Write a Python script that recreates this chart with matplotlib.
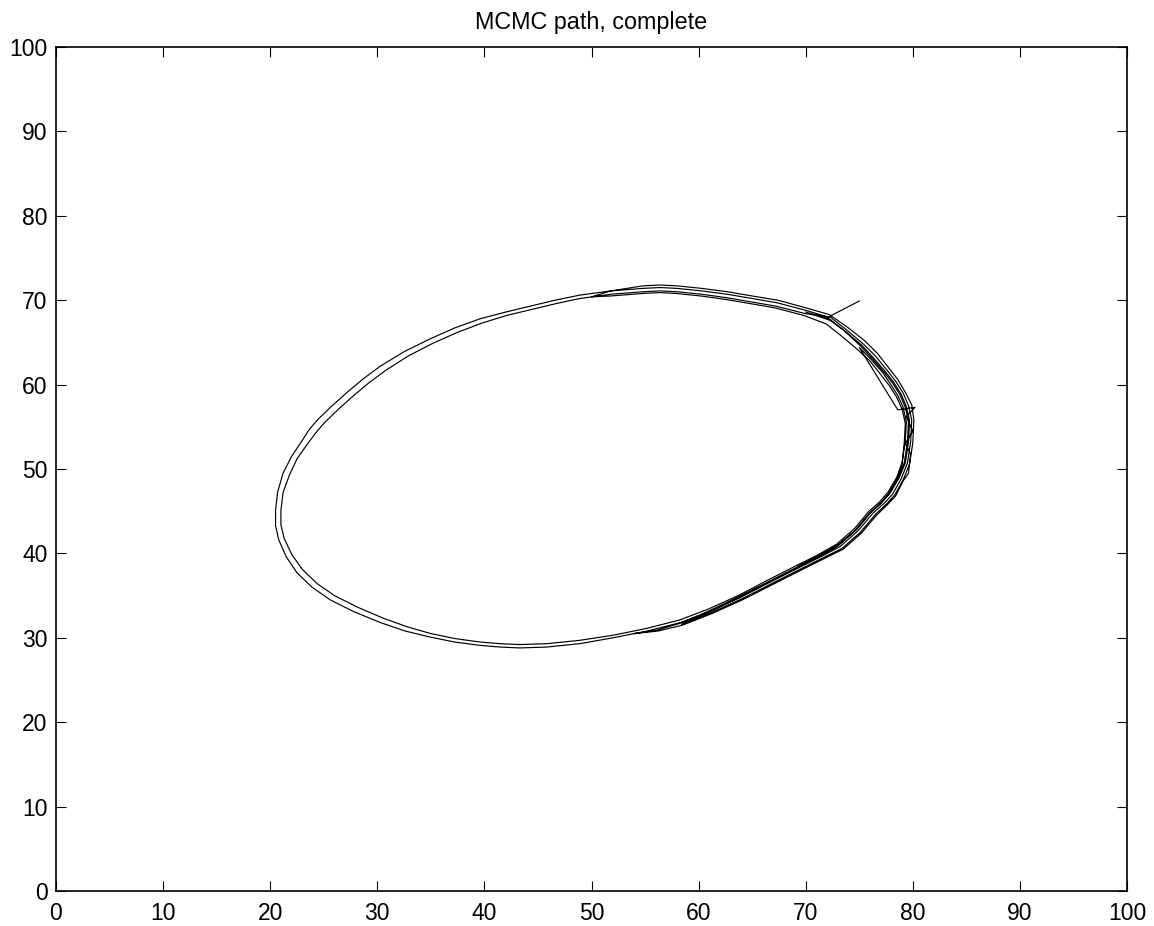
import matplotlib
matplotlib.use("Agg")
import matplotlib.pyplot as plt

plt.rcParams['font.family'] = ['Liberation Sans', 'DejaVu Sans']

# starting jump
start_x = [75.0, 72.1]
start_y = [69.9, 68.0]

# first full loop (outer)
loop1_x = [70.0, 67.3, 65.0, 62.7, 60.3, 58.0, 56.4, 54.8, 51.8, 48.9, 46.6, 44.3, 42.0, 39.6, 37.2,
           34.9, 32.5, 30.3, 28.7, 27.2, 25.7, 24.4, 23.6, 23.0, 22.0, 21.2, 20.7, 20.5, 20.5, 20.8,
           21.5, 22.5, 23.9, 25.6, 27.8, 30.3, 32.6, 34.9, 37.2, 39.6, 41.5, 43.3, 45.8, 48.9, 52.0,
           55.2, 58.3, 61.1, 63.9, 66.7, 69.5, 71.4, 73.2, 74.9, 76.3, 77.3, 78.1, 78.9, 79.5, 79.8,
           79.9, 79.6, 79.1, 78.4, 77.6, 76.5, 75.3, 73.8, 72.3]
loop1_y = [68.8, 69.7, 70.2, 70.7, 71.1, 71.4, 71.5, 71.4, 71.1, 70.6, 70.0, 69.3, 68.6, 67.8, 66.7,
           65.4, 63.9, 62.2, 60.7, 59.1, 57.4, 55.8, 54.6, 53.4, 51.5, 49.5, 47.3, 45.1, 43.3, 41.6,
           39.6, 37.7, 36.0, 34.5, 33.1, 31.8, 30.8, 30.1, 29.5, 29.1, 28.9, 28.8, 28.9, 29.3, 30.0,
           30.8, 31.8, 33.2, 34.8, 36.6, 38.4, 39.6, 40.8, 42.7, 44.8, 45.9, 47.0, 48.8, 50.7, 53.2,
           55.8, 57.5, 59.0, 60.4, 61.7, 63.4, 64.9, 66.5, 68.0]

# second full loop (inner)
loop2_x = [70.0, 67.2, 64.9, 62.6, 60.3, 58.0, 56.4, 54.8, 51.8, 48.9, 46.7, 44.4, 42.1, 39.8, 37.5,
           35.2, 32.9, 30.8, 29.2, 27.7, 26.3, 25.0, 24.2, 23.5, 22.5, 21.8, 21.2, 21.0, 21.0, 21.3,
           22.0, 23.0, 24.4, 26.0, 28.2, 30.6, 32.8, 35.0, 37.3, 39.6, 41.5, 43.3, 45.8, 48.9, 52.0,
           55.1, 58.2, 60.9, 63.7, 66.4, 69.2, 71.1, 72.9, 74.6, 75.9, 76.9, 77.7, 78.5, 79.0, 79.3,
           79.4, 79.1, 78.6, 77.9, 77.2, 76.1, 75.0]
loop2_y = [68.4, 69.3, 69.8, 70.3, 70.7, 71.0, 71.1, 71.0, 70.7, 70.2, 69.6, 68.9, 68.2, 67.3, 66.2,
           64.9, 63.4, 61.7, 60.2, 58.6, 57.0, 55.4, 54.2, 53.0, 51.2, 49.3, 47.2, 45.1, 43.4, 41.8,
           39.9, 38.1, 36.4, 35.0, 33.6, 32.3, 31.3, 30.5, 29.9, 29.5, 29.3, 29.2, 29.3, 29.7, 30.3,
           31.1, 32.1, 33.4, 35.0, 36.8, 38.6, 39.8, 41.1, 43.0, 45.0, 46.1, 47.3, 49.0, 50.8, 53.3,
           55.6, 57.3, 58.7, 60.1, 61.4, 63.0, 64.4]

# shortcut chord and jitter on the right side
chord_x = [78.6, 80.2, 79.4, 80.0, 79.3, 79.8, 79.6]
chord_y = [57.0, 57.3, 56.2, 54.5, 53.0, 51.8, 49.5]

# back-and-forth passes over the right half
arcA_x = [79.1, 78.4, 77.5, 76.6, 75.2, 73.5, 71.6, 69.7, 66.9, 64.1, 61.3, 58.5, 56.2, 54.0]
arcA_y = [48.6, 46.8, 45.6, 44.5, 42.4, 40.5, 39.3, 38.1, 36.3, 34.5, 32.9, 31.5, 30.8, 30.5]

arcB_x = [56.1, 58.2, 60.9, 63.7, 66.4, 69.2, 71.1, 72.9, 74.6, 75.9, 76.9, 77.7, 78.5, 79.0, 79.2,
          79.3, 79.0, 78.5, 77.8, 77.0, 76.0, 74.8, 73.3, 71.9, 69.8, 67.1, 64.8, 62.5, 60.2, 57.9,
          56.4, 54.8, 51.8, 50.0]
arcB_y = [30.9, 31.7, 33.0, 34.7, 36.5, 38.3, 39.5, 40.8, 42.7, 44.7, 45.8, 47.0, 48.7, 50.5, 53.1,
          55.4, 57.1, 58.5, 59.9, 61.2, 62.8, 64.2, 65.8, 67.2, 68.2, 69.1, 69.6, 70.1, 70.5, 70.8,
          70.9, 70.8, 70.5, 70.4]

arcC_x = [51.8, 54.8, 56.4, 58.0, 60.3, 62.7, 65.0, 67.4, 70.0, 72.2, 73.9, 75.5, 76.7, 77.8, 78.6,
          79.3, 79.9, 80.1, 80.0, 79.7, 79.1, 78.3, 77.5, 76.5, 75.1, 73.4, 71.5, 69.6, 66.8, 64.0,
          61.2, 58.4]
arcC_y = [71.1, 71.7, 71.8, 71.7, 71.4, 71.0, 70.5, 70.0, 69.1, 68.3, 66.8, 65.2, 63.7, 61.9, 60.6,
          59.1, 57.6, 55.8, 53.1, 50.6, 48.7, 46.9, 45.8, 44.6, 42.5, 40.6, 39.4, 38.2, 36.4, 34.6,
          33.0, 31.6]

arcD_x = [61.0, 63.8, 66.6, 69.4, 71.3, 73.1, 74.8, 76.1, 77.1, 77.9, 78.7, 79.3, 79.6, 79.7, 79.4,
          78.9, 78.2, 77.4, 76.3, 75.2, 73.7, 72.2, 70.0]
arcD_y = [33.2, 34.9, 36.7, 38.5, 39.7, 41.0, 42.9, 44.9, 46.0, 47.2, 48.9, 50.7, 53.2, 55.7, 57.4,
          58.9, 60.3, 61.6, 63.2, 64.7, 66.3, 67.8, 68.6]

arcE_x = [72.3, 73.6, 75.1, 76.2, 77.3, 78.1, 78.8, 79.3, 79.6, 79.5, 79.2, 78.6, 77.8, 77.0, 76.0,
          74.7, 73.0, 71.2, 69.3]
arcE_y = [67.6, 66.4, 64.6, 63.1, 61.5, 60.2, 58.8, 57.3, 55.7, 53.2, 50.7, 48.9, 47.1, 46.0, 44.8,
          42.8, 41.0, 39.7, 38.5]

xticks = [0, 10, 20, 30, 40, 50, 60, 70, 80, 90, 100]
yticks = [0, 10, 20, 30, 40, 50, 60, 70, 80, 90, 100]

path_x = start_x + loop1_x + loop2_x + chord_x + arcA_x + arcB_x + arcC_x + arcD_x + arcE_x
path_y = start_y + loop1_y + loop2_y + chord_y + arcA_y + arcB_y + arcC_y + arcD_y + arcE_y

fig = plt.figure(figsize=(11.54, 9.26), dpi=100)
ax = fig.add_axes([56/1154, 35/926, (1127-56)/1154, (891-47)/926])
ax.plot(path_x, path_y, color='black', lw=0.85, solid_joinstyle='round')
ax.set_xlim(0, 100)
ax.set_ylim(0, 100)
ax.set_xticks(xticks)
ax.set_yticks(yticks)
ax.tick_params(direction='in', length=7, width=0.8, top=True, right=True,
               labelsize=16.5)
ax.tick_params(axis='x', pad=8)
ax.tick_params(axis='y', pad=6)
for s in ax.spines.values():
    s.set_linewidth(1.2)
ax.set_title('MCMC path, complete', fontsize=16.8, pad=13)
fig.savefig('out.png', dpi=100)
